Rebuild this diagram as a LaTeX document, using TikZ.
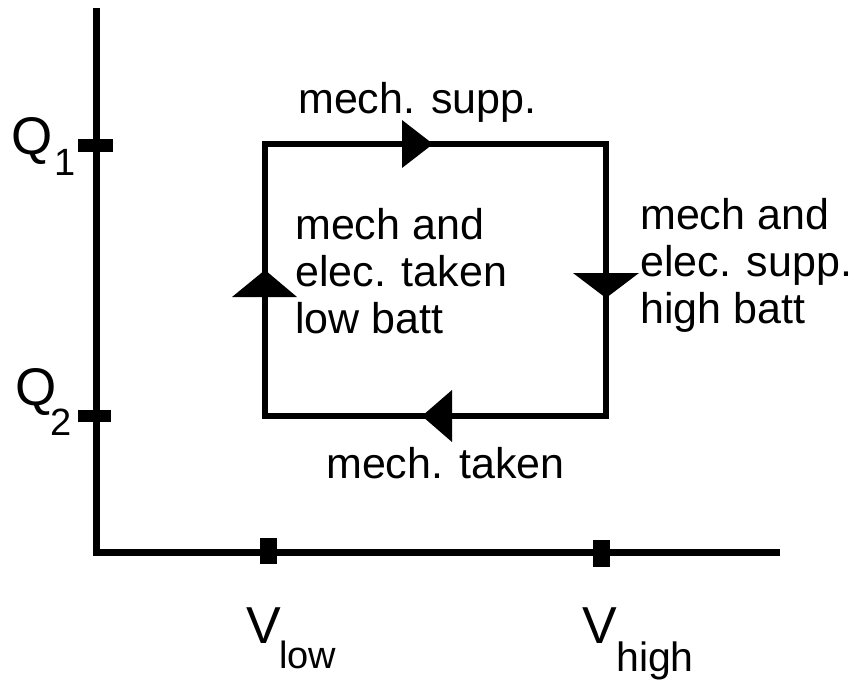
\documentclass[tikz,border=0pt]{standalone}
\usepackage{fontspec}
\setmainfont{Liberation Sans}
\tikzset{
  axisline/.style={line width=7pt},
  loopline/.style={line width=6pt, line join=miter},
  arrowhead/.style={fill=black},
  lbl/.style={inner sep=0pt, align=left, font=\fontsize{43}{47}\selectfont},
  bigsym/.style={inner sep=0pt, anchor=base west},
}
\begin{document}
\begin{tikzpicture}[x=1pt,y=-1pt]
\useasboundingbox (0,0) rectangle (855,683);
% axes
\coordinate (O) at (96,552);
\coordinate (ytop) at (96,8);
\coordinate (xend) at (780,552);
\draw[axisline] (ytop) -- (O) -- (xend);
% ticks
\coordinate (q1a) at (78,145); \coordinate (q1b) at (113,145);
\coordinate (q2a) at (78,416); \coordinate (q2b) at (111,416);
\draw[line width=13pt] (q1a) -- (q1b);
\draw[line width=12pt] (q2a) -- (q2b);
\coordinate (vla) at (268.5,538); \coordinate (vlb) at (268.5,564);
\coordinate (vha) at (601.5,540); \coordinate (vhb) at (601.5,567);
\draw[line width=17pt] (vla) -- (vlb);
\draw[line width=17pt] (vha) -- (vhb);
% loop
\coordinate (A) at (265,144);
\coordinate (B) at (606,144);
\coordinate (C) at (606,416);
\coordinate (D) at (265,416);
\draw[loopline] (A) -- (B) -- (C) -- (D) -- cycle;
% arrowheads
\fill[arrowhead] (402,120) -- (433,144) -- (402,168) -- cycle;
\fill[arrowhead] (573,273) -- (639,273) -- (606,298) -- cycle;
\fill[arrowhead] (452,390) -- (422,416) -- (452,442) -- cycle;
\fill[arrowhead] (232,297) -- (265,270) -- (297,297) -- cycle;
% labels
\node[lbl, anchor=base west] (top) at (298,113) {mech. supp.};
\node[lbl, anchor=base west] (bot) at (326,478) {mech. taken};
\node[lbl, anchor=north west] (left) at (295,208) {mech and\\elec. taken\\low batt};
\node[lbl, anchor=north west] (right) at (640,198) {mech and\\elec. supp.\\high batt};
% axis symbols
\node[bigsym] (Q1) at (11,154) {\fontsize{53}{53}\selectfont Q};
\node[bigsym] (Q1s) at (54,175) {\fontsize{38}{38}\selectfont 1};
\node[bigsym] (Q2) at (15,405) {\fontsize{53}{53}\selectfont Q};
\node[bigsym] (Q2s) at (50,435) {\fontsize{38}{38}\selectfont 2};
\node[bigsym] (Vl) at (246,643) {\fontsize{52}{52}\selectfont V};
\node[bigsym] (Vls) at (279,668) {\fontsize{38}{38}\selectfont low};
\node[bigsym] (Vh) at (582,643) {\fontsize{52}{52}\selectfont V};
\node[bigsym] (Vhs) at (616,671) {\fontsize{41}{41}\selectfont high};
\end{tikzpicture}
\end{document}
